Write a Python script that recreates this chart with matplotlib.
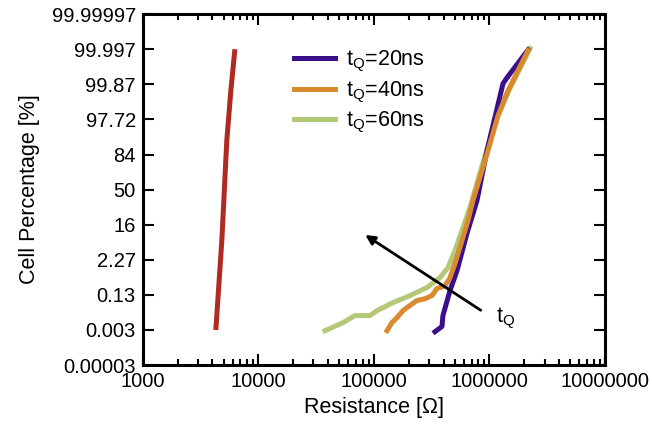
import numpy as np
import matplotlib
matplotlib.use('Agg')
import matplotlib.pyplot as plt
from matplotlib.ticker import LogLocator, NullFormatter

plt.rcParams['font.family'] = ['Liberation Sans', 'DejaVu Sans']
plt.rcParams['mathtext.fontset'] = 'custom'
plt.rcParams['mathtext.rm'] = 'Liberation Sans'
plt.rcParams['mathtext.it'] = 'Liberation Sans:italic'

# y values in sigma units (normal quantiles), x as log10 of resistance
sigma_levels = [-5, -4, -3, -2, -1, 0, 1, 2, 3, 4, 5]
pct_labels = ['0.00003', '0.003', '0.13', '2.27', '16', '50', '84',
              '97.72', '99.87', '99.997', '99.99997']

red_logr = [3.632, 3.684, 3.727, 3.762, 3.797]
red_sig = [-4.0, -1.45, 1.40, 2.82, 4.0]

t20_logr = [5.528, 5.589, 5.597, 5.658, 5.719, 5.805, 5.892, 5.978, 6.117, 6.152, 6.333]
t20_sig = [-4.05, -3.9, -3.59, -2.88, -2.31, -1.25, -0.31, 1.11, 3.02, 3.19, 3.98]

t40_logr = [5.113, 5.156, 5.199, 5.251, 5.312, 5.372, 5.442, 5.502, 5.545, 5.615,
            5.658, 5.701, 5.762, 5.814, 5.857, 5.987, 6.074, 6.160, 6.333]
t40_sig = [-4.02, -3.79, -3.65, -3.45, -3.30, -3.16, -3.11, -3.02, -2.82, -2.74,
           -2.51, -2.11, -1.45, -0.88, -0.31, 1.11, 2.11, 2.82, 3.96]

t60_logr = [4.576, 4.732, 4.835, 4.965, 5.026, 5.165, 5.312, 5.459, 5.571, 5.641,
            5.701, 5.771, 5.831, 5.961, 6.074, 6.177, 6.351]
t60_sig = [-4.02, -3.79, -3.59, -3.59, -3.45, -3.22, -3.02, -2.79, -2.51, -2.22,
           -1.74, -1.08, -0.51, 0.97, 2.11, 2.88, 4.02]

fig = plt.figure(figsize=(6.52, 4.28), dpi=100)
ax = fig.add_axes([0.219, 0.147, 0.709, 0.820])

lw = 3.6
ax.plot(10**np.array(red_logr), red_sig, color='#b02a24', lw=lw, solid_capstyle='butt')
l60, = ax.plot(10**np.array(t60_logr), t60_sig, color='#b4c978', lw=lw, label='t$_\\mathrm{Q}$=60ns')
l20, = ax.plot(10**np.array(t20_logr), t20_sig, color='#3b0f8c', lw=lw, label='t$_\\mathrm{Q}$=20ns')
l40, = ax.plot(10**np.array(t40_logr), t40_sig, color='#d98a2e', lw=lw, label='t$_\\mathrm{Q}$=40ns')

ax.annotate('', xy=(10**4.905, -1.25), xytext=(10**5.944, -3.48),
            arrowprops=dict(arrowstyle='-|>', color='black', lw=2, mutation_scale=14))
ax.text(10**6.06, -3.67, 't$_\\mathrm{Q}$', fontsize=15.5, va='center', ha='left')

ax.set_xscale('log')
ax.set_xlim(1e3, 1e7)
ax.set_ylim(-5, 5)
ax.set_xticks([1e3, 1e4, 1e5, 1e6, 1e7])
ax.set_xticklabels(['1000', '10000', '100000', '1000000', '10000000'])
ax.xaxis.set_minor_locator(LogLocator(base=10, subs=np.arange(2, 10)))
ax.xaxis.set_minor_formatter(NullFormatter())
ax.set_yticks(sigma_levels)
ax.set_yticklabels(pct_labels)

ax.tick_params(which='both', direction='in', top=True, right=True, labelsize=14.5, width=1.5)
ax.tick_params(which='major', length=8, pad=5)
ax.tick_params(which='minor', length=4)
for s in ax.spines.values():
    s.set_linewidth(2.2)

ax.set_xlabel('Resistance [Ω]', fontsize=15.5, labelpad=4)
ax.set_ylabel('Cell Percentage [%]', fontsize=15.5, labelpad=8)

ax.legend([l20, l40, l60], [l20.get_label(), l40.get_label(), l60.get_label()],
          loc='upper left', bbox_to_anchor=(0.285, 0.955), frameon=False,
          fontsize=15.5, handlelength=1.9, labelspacing=0.25, handletextpad=0.5)

fig.savefig('out.png', dpi=100)
